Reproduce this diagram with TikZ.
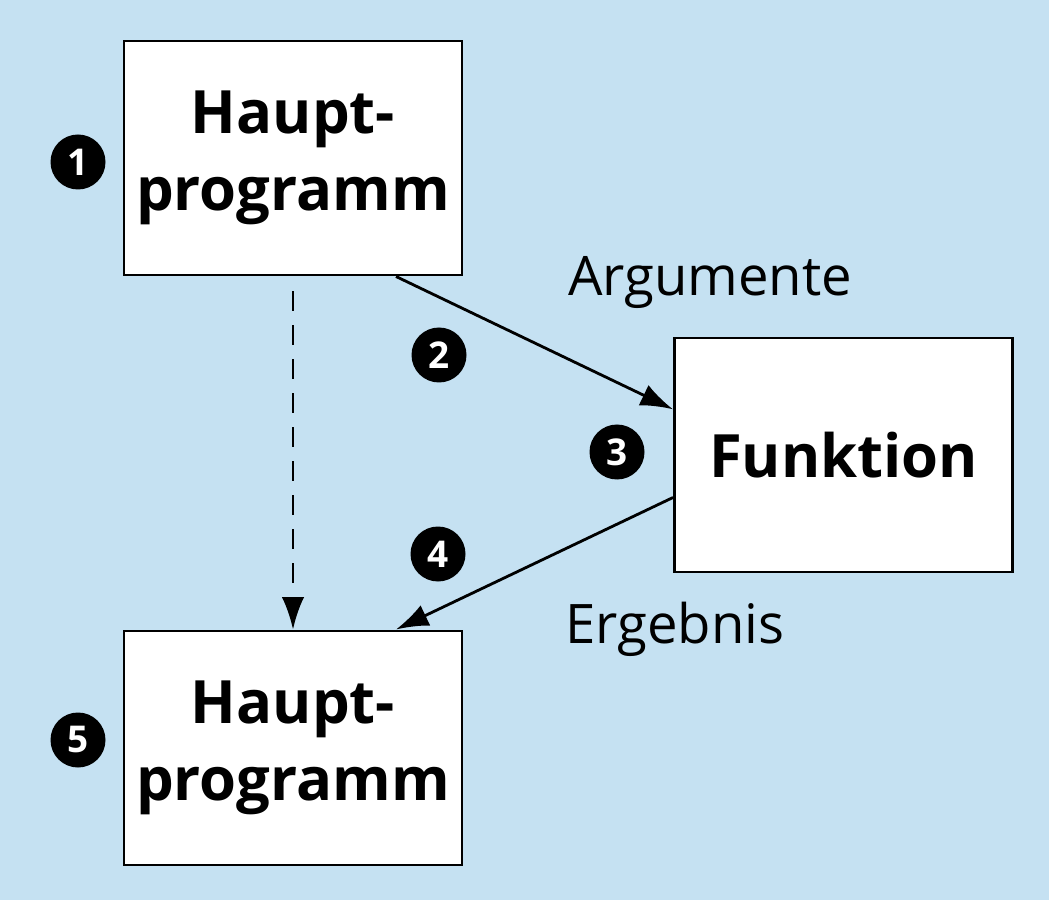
\documentclass[tikz,border=0pt]{standalone}
\usepackage{fontspec}
\setmainfont{Open Sans}
\usetikzlibrary{arrows.meta}
\definecolor{bgblue}{HTML}{C5E1F2}
\tikzset{
  progbox/.style={draw, fill=white, line width=1.7pt, minimum width=6.76cm, minimum height=4.68cm, align=center, font=\fontsize{34}{44}\selectfont\bfseries},
  numdot/.style={circle, fill=black, text=white, inner sep=0pt, minimum size=1.1cm, font=\fontsize{21}{21}\selectfont\bfseries},
  flow/.style={line width=1.6pt, -{Latex[length=0.65cm, width=0.45cm]}},
  lbl/.style={font=\fontsize{31}{37}\selectfont}
}
\begin{document}
\begin{tikzpicture}
  \fill[bgblue] (0,0) rectangle (20.98,18);
  \useasboundingbox (0,0) rectangle (20.98,18);
  \node[progbox] (hauptA) at (5.86,14.84) {Haupt-\\programm};
  \node[progbox] (funktion) at (16.87,8.9) {Funktion};
  \node[progbox] (hauptB) at (5.86,3.04) {Haupt-\\programm};
  \node[numdot] (eins) at (1.56,14.76) {1};
  \node[numdot] (zwei) at (8.78,10.9) {2};
  \node[numdot] (drei) at (12.34,8.96) {3};
  \node[numdot] (vier) at (8.76,6.92) {4};
  \node[numdot] (fuenf) at (1.56,3.2) {5};
  \node[lbl] (argumente) at (14.2,12.35) {Argumente};
  \node[lbl] (ergebnis) at (13.5,5.42) {Ergebnis};
  \draw[flow] (hauptA.-49) -- (funktion.165);
  \draw[flow] (funktion.194) -- (hauptB.49);
  \draw[flow, dash pattern=on 0.4cm off 0.28cm, shorten <=0.3cm] (hauptA.south) -- (hauptB.north);
\end{tikzpicture}
\end{document}
